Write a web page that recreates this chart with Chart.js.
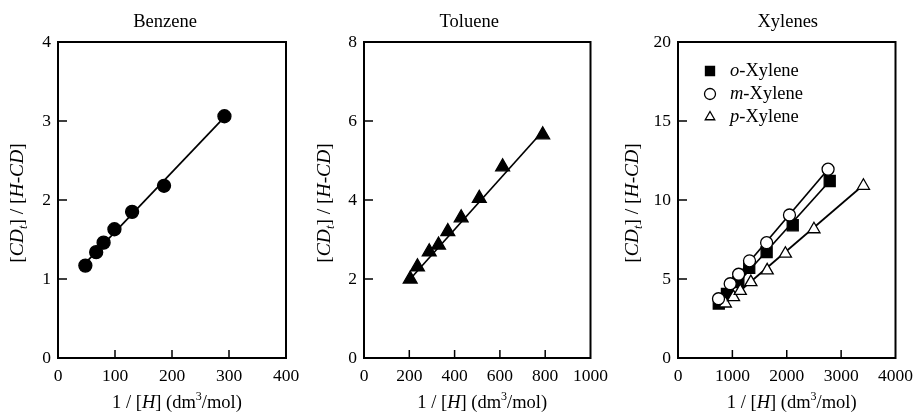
<!DOCTYPE html>
<html>
<head>
<meta charset="utf-8">
<script src="https://cdn.jsdelivr.net/npm/chart.js@4.4.0/dist/chart.umd.min.js"></script>
<style>
  body { margin: 0; background: #fff; overflow: hidden; }
  #wrap { position: relative; width: 914px; height: 412px; overflow: hidden; }
  canvas { position: absolute; top: 0; }
</style>
</head>
<body>
<div id="wrap">
  <canvas id="benzeneChart" width="310" height="412" style="left:0px"></canvas>
  <canvas id="tolueneChart" width="306" height="412" style="left:310px"></canvas>
  <canvas id="xyleneChart" width="311" height="412" style="left:610px"></canvas>
</div>
<script>
// values
const benzeneX = [48, 67, 80, 99, 130, 186, 292];
const benzeneY = [1.17, 1.34, 1.46, 1.63, 1.85, 2.18, 3.06];
const benzeneFitX = [48, 292];
const benzeneFitY = [1.2, 3.05];

const tolueneX = [204, 236, 288, 329, 370, 429, 509, 612, 789];
const tolueneY = [2.0, 2.31, 2.69, 2.86, 3.2, 3.55, 4.04, 4.84, 5.65];
const tolueneFitX = [204, 792];
const tolueneFitY = [2.0, 5.76];

const xyleneNames = ['o-Xylene', 'm-Xylene', 'p-Xylene'];
const oXyleneX = [750, 900, 1110, 1310, 1630, 2110, 2790];
const oXyleneY = [3.45, 4.05, 4.8, 5.7, 6.7, 8.4, 11.2];
const mXyleneX = [745, 960, 1115, 1315, 1630, 2050, 2760];
const mXyleneY = [3.75, 4.7, 5.3, 6.15, 7.3, 9.05, 11.95];
const pXyleneX = [870, 1020, 1145, 1340, 1640, 1975, 2500, 3410];
const pXyleneY = [3.45, 3.85, 4.25, 4.8, 5.55, 6.6, 8.15, 10.9];
const oFitX = [750, 2790], oFitY = [3.4, 11.2];
const mFitX = [745, 2760], mFitY = [3.8, 11.95];
const pFitX = [870, 3410], pFitY = [3.45, 10.95];

const FONT = '"Liberation Serif", "Times New Roman", serif';

function pts(xs, ys) {
    return xs.map((x, i) => ({ x: x, y: ys[i] }));
}

// draws a list of text runs (italic / sub / sup) centred on 0,0
function drawRuns(ctx, runs, size) {
    const fonts = runs.map(r => (r.i ? 'italic ' : '') + ((r.sub || r.sup) ? size * 0.65 : size) + 'px ' + FONT);
    let total = 0;
    const widths = runs.map((r, k) => { ctx.font = fonts[k]; const w = ctx.measureText(r.t).width; total += w; return w; });
    let x = -total / 2;
    ctx.textBaseline = 'middle';
    ctx.textAlign = 'left';
    ctx.fillStyle = '#000';
    runs.forEach((r, k) => {
        ctx.font = fonts[k];
        let dy = 0;
        if (r.sub) dy = size * 0.3;
        if (r.sup) dy = -size * 0.35;
        ctx.fillText(r.t, x, dy);
        x += widths[k];
    });
}

const xTitleRuns = [{ t: '1 / [' }, { t: 'H', i: 1 }, { t: '] (dm' }, { t: '3', sup: 1 }, { t: '/mol)' }];
const yTitleRuns = [{ t: '[' }, { t: 'CD', i: 1 }, { t: 't', i: 1, sub: 1 }, { t: '] / [' }, { t: 'H-CD', i: 1 }, { t: ']' }];

const framePlugin = {
    id: 'frame',
    afterDraw(chart, args, opts) {
        const ctx = chart.ctx;
        const a = chart.chartArea;
        const xs = chart.scales.x, ys = chart.scales.y;
        ctx.save();
        ctx.strokeStyle = '#000';
        ctx.lineWidth = 2;
        ctx.strokeRect(a.left, a.top, a.right - a.left, a.bottom - a.top);
        ctx.lineWidth = 1.5;
        ctx.beginPath();
        xs.ticks.forEach(t => {
            if (t.value <= xs.min || t.value >= xs.max) return;
            const px = xs.getPixelForValue(t.value);
            ctx.moveTo(px, a.bottom);
            ctx.lineTo(px, a.bottom - 8);
        });
        ys.ticks.forEach(t => {
            if (t.value <= ys.min || t.value >= ys.max) return;
            const py = ys.getPixelForValue(t.value);
            ctx.moveTo(a.left, py);
            ctx.lineTo(a.left + 9, py);
        });
        ctx.stroke();

        // panel title
        ctx.font = '18.5px ' + FONT;
        ctx.fillStyle = '#000';
        ctx.textAlign = 'center';
        ctx.textBaseline = 'middle';
        ctx.fillText(opts.title, (a.left + a.right) / 2 + opts.titleShift, 22);

        // axis titles
        ctx.save();
        ctx.translate((a.left + a.right) / 2 + 5, 403);
        drawRuns(ctx, xTitleRuns, 18.5);
        ctx.restore();
        ctx.save();
        ctx.translate(a.left - opts.yTitleGap, (a.top + a.bottom) / 2 + 3);
        ctx.rotate(-Math.PI / 2);
        drawRuns(ctx, yTitleRuns, 19.5);
        ctx.restore();

        // legend (xylenes only)
        if (opts.legend) {
            opts.legend.forEach((item, k) => {
                const y = a.top + 29 + k * 23;
                const x = a.left + 32;
                ctx.fillStyle = item.fill;
                ctx.strokeStyle = '#000';
                ctx.lineWidth = 1.3;
                Chart.helpers.drawPoint(ctx, { pointStyle: item.style, radius: item.radius, rotation: 0, borderWidth: 1.3 }, x, y);
                const dash = item.name.indexOf('-');
                ctx.save();
                ctx.translate(x + 20, y);
                ctx.textAlign = 'left';
                ctx.textBaseline = 'middle';
                ctx.fillStyle = '#000';
                ctx.font = 'italic 18.5px ' + FONT;
                const pre = item.name.slice(0, dash);
                ctx.fillText(pre, 0, 0);
                const w = ctx.measureText(pre).width;
                ctx.font = '18.5px ' + FONT;
                ctx.fillText(item.name.slice(dash), w, 0);
                ctx.restore();
            });
        }
        ctx.restore();
    }
};

function makePanel(id, p) {
    const tickFont = { family: FONT, size: 17.5 };
    return new Chart(document.getElementById(id), {
        type: 'scatter',
        data: { datasets: p.datasets },
        options: {
            responsive: false,
            animation: false,
            layout: { padding: { left: 0, right: p.padRight, top: 42, bottom: 0 } },
            plugins: {
                legend: { display: false },
                tooltip: { enabled: false },
                frame: { title: p.title, titleShift: p.titleShift, yTitleGap: p.yTitleGap, legend: p.legend }
            },
            scales: {
                x: {
                    type: 'linear', min: 0, max: p.xMax,
                    ticks: { stepSize: p.xStep, color: '#000', font: tickFont, padding: 8, maxRotation: 0, autoSkip: false, callback: v => String(v) },
                    grid: { display: false, drawTicks: false },
                    border: { display: false },
                    afterFit: s => { s.height = 54; }
                },
                y: {
                    type: 'linear', min: 0, max: p.yMax,
                    ticks: { stepSize: p.yStep, color: '#000', font: tickFont, padding: 7, callback: v => String(v) },
                    grid: { display: false, drawTicks: false },
                    border: { display: false },
                    afterFit: s => { s.width = p.plotLeft; }
                }
            }
        },
        plugins: [framePlugin]
    });
}

function markers(data, style, radius, fill) {
    return {
        data: data, pointStyle: style, pointRadius: radius,
        backgroundColor: fill, borderColor: '#000', pointBorderWidth: 1.3, showLine: false
    };
}
function fitLine(xs, ys) {
    return { data: pts(xs, ys), showLine: true, pointRadius: 0, borderColor: '#000', borderWidth: 1.7 };
}

makePanel('benzeneChart', {
    title: 'Benzene', titleShift: -7, yTitleGap: 40, plotLeft: 58, padRight: 24,
    xMax: 400, xStep: 100, yMax: 4, yStep: 1,
    datasets: [
        markers(pts(benzeneX, benzeneY), 'circle', 6.5, '#000'),
        fitLine(benzeneFitX, benzeneFitY)
    ]
});

makePanel('tolueneChart', {
    title: 'Toluene', titleShift: -8, yTitleGap: 39, plotLeft: 54, padRight: 16,
    xMax: 1000, xStep: 200, yMax: 8, yStep: 2,
    datasets: [
        markers(pts(tolueneX, tolueneY), 'triangle', 8, '#000'),
        fitLine(tolueneFitX, tolueneFitY)
    ]
});

makePanel('xyleneChart', {
    title: 'Xylenes', titleShift: 1, yTitleGap: 45, plotLeft: 68, padRight: 19,
    xMax: 4000, xStep: 1000, yMax: 20, yStep: 5,
    legend: [
        { name: xyleneNames[0], style: 'rect', radius: 6.4, fill: '#000' },
        { name: xyleneNames[1], style: 'circle', radius: 5.5, fill: '#fff' },
        { name: xyleneNames[2], style: 'triangle', radius: 5.5, fill: '#fff' }
    ],
    datasets: [
        markers(pts(mXyleneX, mXyleneY), 'circle', 6, '#fff'),
        markers(pts(pXyleneX, pXyleneY), 'triangle', 7, '#fff'),
        markers(pts(oXyleneX, oXyleneY), 'rect', 7.8, '#000'),
        fitLine(oFitX, oFitY),
        fitLine(mFitX, mFitY),
        fitLine(pFitX, pFitY)
    ]
});
</script>
</body>
</html>
